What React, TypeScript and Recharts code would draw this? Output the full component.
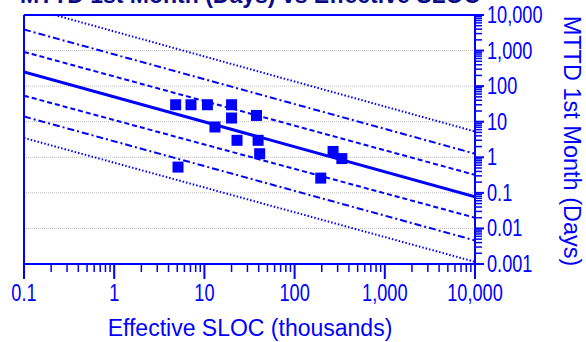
import {
  CartesianGrid,
  ComposedChart,
  Line,
  ReferenceLine,
  Scatter,
  XAxis,
  YAxis,
} from "recharts";

const BLUE = "#0000ff";
const NAVY = "#0b0b86";
const FONT = "'Liberation Sans', Arial, sans-serif";

// decade ticks and what they print
const xMajor = [0.1, 1, 10, 100, 1000, 10000];
const xLabels = ["0.1", "1", "10", "100", "1,000", "10,000"];
const yMajor = [0.001, 0.01, 0.1, 1, 10, 100, 1000, 10000];
const yLabels = ["0.001", "0.01", "0.1", "1", "10", "100", "1,000", "10,000"];
const gridValues = [0.01, 0.1, 1, 10, 100, 1000];

// projects: effective SLOC (thousands) vs MTTD in the 1st month (days)
const sloc = [4.8, 7.1, 10.8, 20, 20, 37.8, 13.1, 23, 39.4, 41, 267, 334, 5.1, 195];
const mttd = [30, 30, 30, 30, 12.7, 15, 7.1, 3.0, 3.0, 1.26, 1.46, 0.92, 0.53, 0.26];

// fitted line and the three bands each side, read at both ends of the x range
const fitX = [0.1, 10000];
const fitMid = [251, 0.078];
const fitUp1 = [920, 0.32];
const fitLow1 = [54, 0.02];
const fitUp2 = [3900, 1.26];
const fitLow2 = [14, 0.0046];
const fitUp3 = [17400, 5.3];
const fitLow3 = [3.5, 0.00115];

// log minor ticks 2..9 inside every decade
const withMinors = (majors: number[]) => [
  ...majors,
  ...majors
    .slice(0, -1)
    .flatMap((m) => [2, 3, 4, 5, 6, 7, 8, 9].map((k) => +(m * k).toPrecision(3))),
];

const fitRows = fitX.map((x, i) => ({
  x,
  mid: fitMid[i],
  up1: fitUp1[i],
  low1: fitLow1[i],
  up2: fitUp2[i],
  low2: fitLow2[i],
  up3: fitUp3[i],
  low3: fitLow3[i],
}));

const points = sloc.map((x, i) => ({ x, y: mttd[i] }));

// tick numbers in the original are set in a narrow face
function NarrowText({ x, y, anchor, children }: any) {
  return (
    <text
      transform={`translate(${x},${y}) scale(0.79,1)`}
      textAnchor={anchor}
      fill={BLUE}
      fontSize={23}
      fontFamily={FONT}
    >
      {children}
    </text>
  );
}

function XTick({ x, y, payload }: any) {
  const i = xMajor.indexOf(payload.value);
  const major = i >= 0;
  return (
    <g>
      <line
        x1={x}
        x2={x}
        y1={y}
        y2={y + (major ? 15 : 8)}
        stroke={BLUE}
        strokeWidth={major ? 2 : 1.5}
      />
      {major && (
        <NarrowText x={x} y={y + 37} anchor="middle">
          {xLabels[i]}
        </NarrowText>
      )}
    </g>
  );
}

function YTick({ x, y, payload }: any) {
  const i = yMajor.indexOf(payload.value);
  const major = i >= 0;
  return (
    <g>
      <line
        x1={x}
        x2={x + (major ? 9 : 7)}
        y1={y}
        y2={y}
        stroke={BLUE}
        strokeWidth={major ? 2 : 1.5}
      />
      {major && (
        <NarrowText x={x + 12} y={y + 8} anchor="start">
          {yLabels[i]}
        </NarrowText>
      )}
    </g>
  );
}

const xTitle = () => (
  <text x={250} y={336} textAnchor="middle" fill={BLUE} fontSize={23} fontFamily={FONT}>
    Effective SLOC (thousands)
  </text>
);

const yTitle = () => (
  <text
    x={572}
    y={141}
    transform="rotate(90, 572, 141)"
    textAnchor="middle"
    dominantBaseline="central"
    fill={BLUE}
    fontSize={23.5}
    fontFamily={FONT}
  >
    MTTD 1st Month (Days)
  </text>
);

export default function App() {
  return (
    <div style={{ position: "absolute", left: 0, top: 0, width: 586, height: 342, background: "#fff" }}>
      <ComposedChart
        width={586}
        height={342}
        data={fitRows}
        margin={{ top: 15, right: 0, bottom: 0, left: 24 }}
      >
        <CartesianGrid
          vertical={false}
          horizontalValues={gridValues}
          stroke="#b8b8b8"
          strokeDasharray="1 1"
        />
        <XAxis
          dataKey="x"
          type="number"
          scale="log"
          domain={[0.1, 10000]}
          allowDataOverflow
          ticks={withMinors(xMajor)}
          interval={0}
          height={78}
          tickSize={0}
          tickMargin={0}
          tickLine={false}
          tick={<XTick />}
          axisLine={{ stroke: BLUE, strokeWidth: 2 }}
          label={xTitle}
        />
        <YAxis
          orientation="right"
          type="number"
          scale="log"
          domain={[0.001, 10000]}
          allowDataOverflow
          ticks={withMinors(yMajor)}
          interval={0}
          width={111}
          tickSize={0}
          tickMargin={0}
          tickLine={false}
          tick={<YTick />}
          axisLine={{ stroke: BLUE, strokeWidth: 2 }}
          label={yTitle}
        />
        <ReferenceLine y={10000} stroke={BLUE} strokeWidth={2} />
        <ReferenceLine x={0.1} stroke={BLUE} strokeWidth={2} />
        <Line dataKey="up3" stroke={BLUE} strokeWidth={2} strokeDasharray="1.5 2" dot={false} isAnimationActive={false} />
        <Line dataKey="up2" stroke={BLUE} strokeWidth={2} strokeDasharray="7 3 2 3" dot={false} isAnimationActive={false} />
        <Line dataKey="up1" stroke={BLUE} strokeWidth={2} strokeDasharray="5 3" dot={false} isAnimationActive={false} />
        <Line dataKey="mid" stroke={BLUE} strokeWidth={3} dot={false} isAnimationActive={false} />
        <Line dataKey="low1" stroke={BLUE} strokeWidth={2} strokeDasharray="5 3" dot={false} isAnimationActive={false} />
        <Line dataKey="low2" stroke={BLUE} strokeWidth={2} strokeDasharray="7 3 2 3" dot={false} isAnimationActive={false} />
        <Line dataKey="low3" stroke={BLUE} strokeWidth={2} strokeDasharray="1.5 2" dot={false} isAnimationActive={false} />
        <Scatter
          data={points}
          dataKey="y"
          isAnimationActive={false}
          shape={(p: any) => (
            <rect x={p.cx - 5.5} y={p.cy - 5.5} width={11} height={11} fill={BLUE} />
          )}
        />
      </ComposedChart>
      <svg width={586} height={20} style={{ position: "absolute", left: 0, top: 0 }}>
        <text x={250} y={3} textAnchor="middle" fill={NAVY} fontSize={23} fontWeight="bold" fontFamily={FONT}>
          MTTD 1st Month (Days) vs Effective SLOC
        </text>
      </svg>
    </div>
  );
}
